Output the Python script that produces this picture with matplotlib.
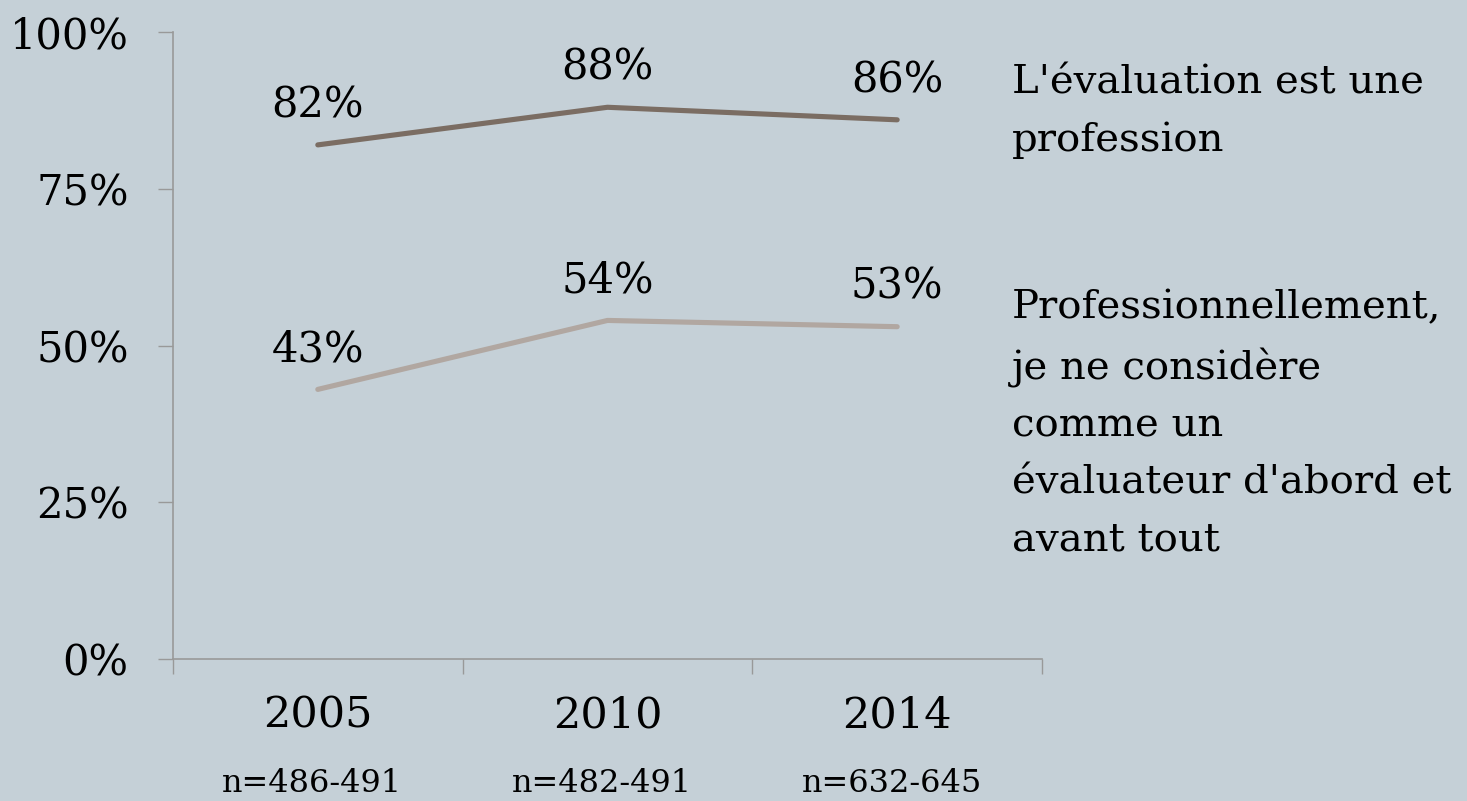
import matplotlib.pyplot as plt
import numpy as np

years = ['2005', '2010', '2014']
sample_sizes = ['n=486-491', 'n=482-491', 'n=632-645']
profession = [82, 88, 86]
evaluateur = [43, 54, 53]
label_prof = "L'évaluation est une\nprofession"
label_eval = "Professionnellement,\nje ne considère\ncomme un\névaluateur d'abord et\navant tout"

bg = '#c5d0d7'
col_prof = '#7b6d63'
col_eval = '#b1a7a1'
axis_col = '#999999'
fs = 30

plt.rcParams['font.family'] = 'DejaVu Serif'

fig = plt.figure(figsize=(14.67, 8.01), dpi=100, facecolor=bg)
ax = fig.add_axes([0.1179, 0.1773, 0.5924, 0.7827])
ax.set_facecolor(bg)

x = np.arange(len(years))
ax.plot(x, profession, color=col_prof, lw=3.7, solid_capstyle='round')
ax.plot(x, evaluateur, color=col_eval, lw=3.7, solid_capstyle='round')

# etiquettes des valeurs au-dessus des points
for i in range(len(years)):
    ax.annotate(f'{profession[i]}%', (x[i], profession[i]), xytext=(0, 20),
                textcoords='offset points', ha='center', va='baseline', fontsize=fs)
    ax.annotate(f'{evaluateur[i]}%', (x[i], evaluateur[i]), xytext=(0, 20),
                textcoords='offset points', ha='center', va='baseline', fontsize=fs)

ax.set_xlim(-0.5, 2.5)
ax.set_ylim(0, 100)
ax.set_yticks([0, 25, 50, 75, 100])
ax.set_yticklabels([f'{v}%' for v in [0, 25, 50, 75, 100]], fontsize=fs)
ax.tick_params(axis='y', length=11, width=1, color=axis_col, pad=21)

ax.set_xticks(x)
ax.set_xticklabels([])
ax.tick_params(axis='x', which='major', length=0)
ax.set_xticks([-0.5, 0.5, 1.5, 2.5], minor=True)
ax.tick_params(axis='x', which='minor', length=11, width=1, color=axis_col)

for i in range(len(years)):
    ax.annotate(years[i], (x[i], 0), xycoords=('data', 'axes fraction'),
                xytext=(0, -49), textcoords='offset points', ha='center', va='baseline', fontsize=31)
    ax.annotate(sample_sizes[i], (x[i], 0), xycoords=('data', 'axes fraction'),
                xytext=(-4, -96), textcoords='offset points', ha='center', va='baseline', fontsize=23)

for s in ['top', 'right']:
    ax.spines[s].set_visible(False)
for s in ['left', 'bottom']:
    ax.spines[s].set_color(axis_col)
    ax.spines[s].set_linewidth(1.2)

fig.text(1012 / 1467, 1 - 64 / 801, label_prof, fontsize=29, va='top', ha='left', linespacing=1.69)
fig.text(1012 / 1467, 1 - 289 / 801, label_eval, fontsize=29, va='top', ha='left', linespacing=1.69)

fig.savefig('out.png', dpi=100, facecolor=bg)
